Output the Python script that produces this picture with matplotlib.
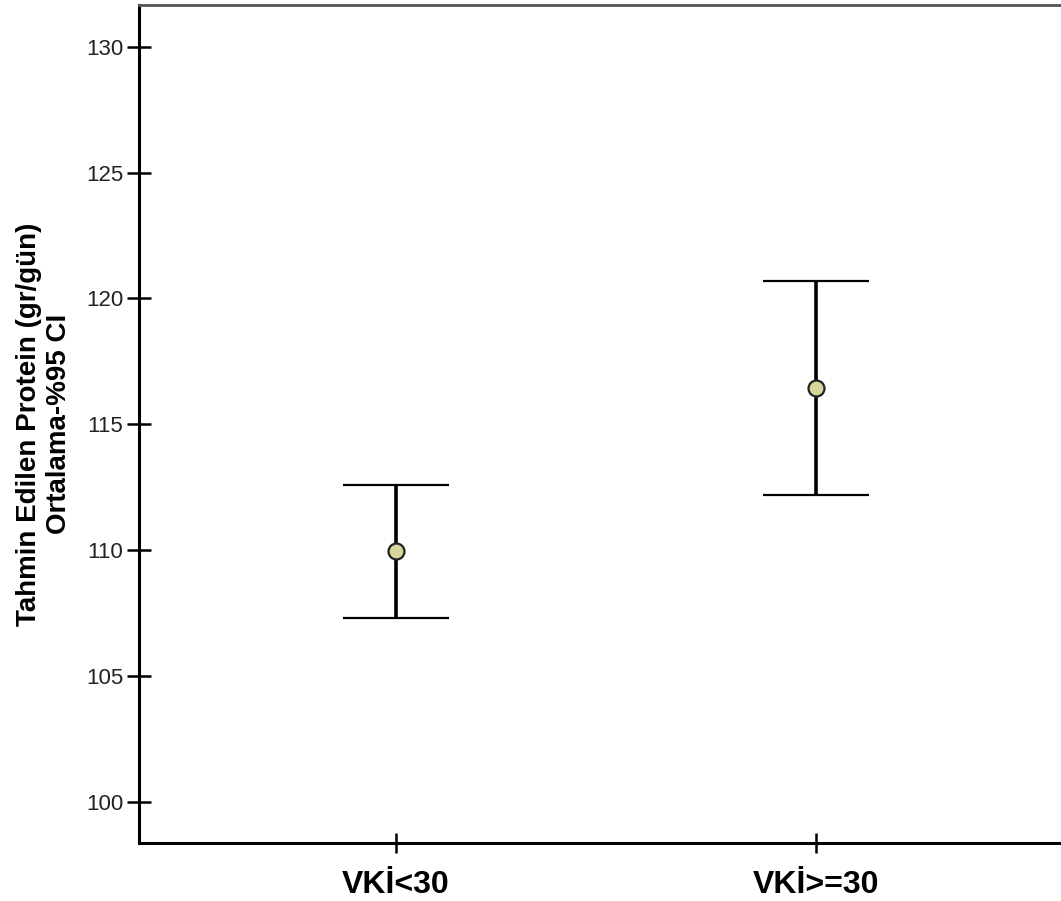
import matplotlib
matplotlib.use('Agg')
from matplotlib import pyplot as plt

# Veri: gruplar, ortalama ve %95 güven aralığı
gruplar = ['VKİ<30', 'VKİ>=30']
ortalama = [109.95, 116.46]
alt_sinir = [107.29, 112.21]
ust_sinir = [112.59, 120.70]
y_ticks = [100, 105, 110, 115, 120, 125, 130]

plt.rcParams['font.family'] = ['Liberation Sans', 'DejaVu Sans']

fig = plt.figure(figsize=(10.61, 9.01), dpi=100)
ax = fig.add_axes([0.1310, 0.0644, 0.8803, 0.9301])

x = list(range(len(gruplar)))
hata = [[m - a for m, a in zip(ortalama, alt_sinir)],
        [u - m for m, u in zip(ortalama, ust_sinir)]]
ax.errorbar(x, ortalama, yerr=hata, fmt='o', color='black', ecolor='black',
            elinewidth=2.6, capsize=38, capthick=2.6,
            markersize=11.5, markerfacecolor='#d8d49a', markeredgecolor='#222222',
            markeredgewidth=1.6, zorder=3)

ax.set_xlim(-0.612, 1.612)
ax.set_ylim(98.37, 131.66)
ax.set_xticks(x)
ax.set_xticklabels(gruplar, fontsize=23, fontweight='bold')
ax.set_yticks(y_ticks)
ax.set_yticklabels([str(v) for v in y_ticks], fontsize=16, color='#222222')

ax.tick_params(axis='y', direction='inout', length=17, width=1.8, pad=3)
ax.tick_params(axis='x', direction='inout', length=15, width=1.8, pad=12)

ax.spines['left'].set_linewidth(2.2)
ax.spines['bottom'].set_linewidth(2.2)
ax.spines['top'].set_linewidth(2.0)
ax.spines['top'].set_color('#555555')
ax.spines['right'].set_visible(False)

ax.set_ylabel('Tahmin Edilen Protein (gr/gün)\nOrtalama-%95 CI',
              fontsize=20, fontweight='bold', linespacing=1.2)
ax.yaxis.set_label_coords(-0.072, 0.5)

fig.savefig('out.png', dpi=100)
